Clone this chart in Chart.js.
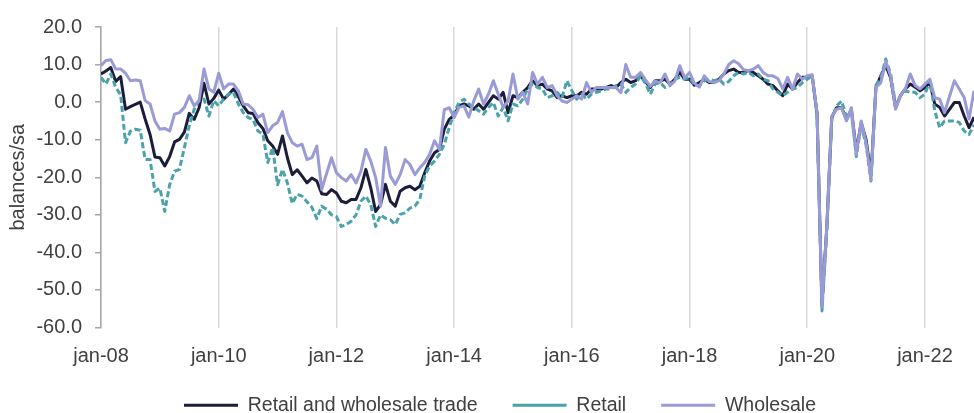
<!DOCTYPE html>
<html><head><meta charset="utf-8">
<script src="https://cdn.jsdelivr.net/npm/chart.js@4/dist/chart.umd.min.js"></script>
<style>html,body{margin:0;padding:0;background:#fff}#wrap{width:974px;height:413px;position:relative}</style>
</head><body><div id="wrap"><canvas id="c" width="974" height="413"></canvas></div>
<script>
// month index 0 = jan-08
const tickLabels = ['jan-08','jan-10','jan-12','jan-14','jan-16','jan-18','jan-20','jan-22'];
const seriesNames = ['Retail and wholesale trade','Retail','Wholesale'];

const retailWholesale = [
7.5,8.3,9.2,5.5,6.8,-1.9,-1.2,-0.6,0.0,-4.5,-8.6,-14.6,
-14.8,-17.0,-14.5,-10.6,-9.9,-8.0,-3.0,-4.6,-1.5,5.0,-0.5,1.0,
3.2,0.8,2.0,3.5,1.5,-1.0,-2.8,-3.0,-5.5,-7.0,-10.3,-11.7,
-13.9,-9.0,-14.8,-19.3,-18.0,-19.7,-21.5,-20.2,-21.0,-24.4,-24.6,-23.3,
-24.2,-26.4,-26.8,-25.9,-25.9,-22.8,-17.9,-22.8,-29.1,-27.3,-21.9,-26.4,
-27.7,-23.7,-22.8,-22.4,-23.3,-22.4,-18.8,-15.7,-13.5,-12.6,-7.2,-4.6,
-3.5,-1.0,-0.5,-1.0,-1.9,-0.5,-1.9,-0.1,1.7,0.8,2.6,-2.8,
1.7,1.2,2.6,3.9,5.7,4.4,4.8,3.5,3.0,1.2,1.7,1.2,
1.7,1.7,2.6,2.1,3.5,3.5,3.5,3.9,4.4,3.9,5.2,6.1,
5.2,5.7,7.0,5.5,3.9,5.7,5.7,6.1,4.8,6.1,8.0,6.1,
6.1,4.5,5.2,6.1,5.2,5.2,6.1,7.5,8.4,8.8,7.9,7.9,
8.4,7.9,7.0,6.1,4.8,4.4,3.0,1.7,4.8,3.5,5.2,6.6,
6.6,7.0,-3.0,-54.0,-33.0,-4.0,-1.5,-1.5,-4.5,-2.0,-13.0,-5.5,
-10.0,-19.5,3.9,7.0,9.7,6.5,-1.5,1.7,3.5,4.8,4.0,3.0,
3.9,5.2,-0.5,-1.4,-3.7,-1.9,-0.1,-0.1,-3.7,-6.8,-4.0
];

const retail = [
6.6,4.8,7.5,3.9,2.0,-10.8,-7.7,-7.2,-7.5,-15.3,-15.3,-23.8,
-22.9,-29.1,-22.0,-18.4,-17.9,-12.1,-6.3,-1.9,0.4,0.8,-3.7,0.4,
-1.0,0.8,2.1,2.6,-0.5,-2.8,-4.1,-4.6,-7.7,-8.5,-16.1,-12.1,
-22.0,-17.9,-21.5,-27.0,-24.5,-25.0,-26.5,-28.0,-31.0,-27.7,-28.5,-30.0,
-30.5,-33.1,-32.6,-31.7,-30.0,-26.4,-25.0,-27.3,-33.1,-30.0,-30.9,-31.3,
-32.6,-29.9,-29.5,-28.2,-27.7,-25.9,-19.7,-17.0,-15.7,-13.9,-11.2,-6.8,
-2.8,-0.1,0.8,-0.5,-1.4,-2.3,-3.2,-1.4,-0.1,-3.7,-1.4,-5.0,
-0.5,-1.0,0.8,3.5,4.8,3.9,3.5,1.2,1.7,2.6,1.2,5.7,
3.0,0.8,2.1,0.8,2.1,2.6,3.0,3.5,3.5,4.4,4.8,2.6,
3.9,4.8,7.0,5.0,2.1,4.8,5.2,3.9,4.4,6.1,6.6,6.1,
6.6,4.5,4.4,5.7,6.1,5.7,6.1,4.8,5.5,7.0,7.9,7.5,
7.9,7.0,7.5,6.1,5.7,3.5,2.6,1.7,2.6,3.5,3.9,5.2,
6.1,7.0,-3.5,-55.6,-34.0,-4.5,-1.0,0.3,-4.0,-2.5,-14.5,-6.0,
-11.5,-21.0,4.5,6.5,11.5,7.5,-0.5,1.7,3.0,2.6,2.6,1.2,
2.1,5.7,-2.3,-6.8,-5.0,-5.0,-5.0,-5.4,-7.7,-8.6,-6.0
];

const wholesale = [
9.7,11.1,11.3,8.8,8.8,7.7,5.7,5.9,5.7,0.4,-0.5,-5.0,
-7.2,-7.0,-7.7,-3.2,-2.8,-1.4,1.7,-1.0,0.4,8.8,3.5,2.6,
7.7,3.5,4.8,4.8,3.0,-0.5,-0.7,-1.9,-4.1,-3.2,-8.1,-6.3,
-5.4,-2.5,-8.1,-10.8,-11.7,-11.2,-15.3,-14.8,-11.7,-23.3,-19.0,-14.8,
-18.8,-20.1,-21.0,-19.3,-21.5,-18.4,-12.6,-15.7,-20.1,-27.7,-12.1,-19.7,
-21.9,-19.3,-15.3,-16.6,-19.3,-17.5,-16.1,-13.9,-10.3,-12.6,-2.0,-1.5,
-4.1,-1.4,-1.0,-4.0,0.3,3.5,-0.5,2.1,5.7,2.1,-1.4,0.3,
7.5,0.8,2.6,-0.5,7.9,4.8,6.6,3.9,4.4,1.7,0.3,-0.1,
0.8,1.7,0.8,5.2,2.6,3.9,3.9,3.9,3.9,3.9,2.5,10.0,
6.6,6.6,7.9,6.0,4.2,5.6,5.2,7.5,4.4,5.6,9.7,6.5,
7.9,5.0,4.0,7.0,5.5,5.2,5.7,7.5,10.0,11.0,10.2,8.6,
8.4,8.8,9.7,7.9,7.0,7.0,6.3,3.5,6.6,3.5,7.5,6.1,
7.0,7.3,-2.8,-54.5,-33.0,-3.7,-1.9,-1.5,-5.0,-1.5,-13.9,-5.0,
-10.8,-20.6,3.9,5.2,10.8,7.0,-1.9,1.7,3.5,7.5,4.4,3.5,
4.8,6.1,1.2,0.8,-2.8,1.5,5.7,3.5,1.2,-4.5,3.0
];

const FONT = "'Liberation Sans', Arial, sans-serif";
const TXT = '#404040';
const toPts = arr => arr.map((v, i) => ({x: i, y: v}));

// nudge the legend block to the reference position
const legendShift = {
  id: 'legendShift',
  afterLayout(chart) {
    const l = chart.legend;
    if (l) { l.left += 13; l.right += 13; l.top -= 11; l.bottom -= 11; }
  }
};

new Chart(document.getElementById('c'), {
  type: 'line',
  data: {
    datasets: [
      {label: seriesNames[0], data: toPts(retailWholesale), borderColor: '#1c1d3b', backgroundColor: '#1c1d3b', borderWidth: 3, order: 2},
      {label: seriesNames[1], data: toPts(retail), borderColor: '#4aa2ab', backgroundColor: '#4aa2ab', borderWidth: 3, borderDash: [6, 3], order: 1},
      {label: seriesNames[2], data: toPts(wholesale), borderColor: '#9a9bd6', backgroundColor: '#9a9bd6', borderWidth: 3, order: 0}
    ]
  },
  plugins: [legendShift],
  options: {
    responsive: false,
    animation: false,
    devicePixelRatio: 1,
    elements: {point: {radius: 0}, line: {tension: 0, borderJoinStyle: 'round', borderCapStyle: 'butt'}},
    layout: {padding: {top: 27, right: 0, bottom: -23, left: 0}},
    scales: {
      x: {
        type: 'linear', min: 0, max: 178,
        afterBuildTicks: s => { s.ticks = tickLabels.map((_, k) => ({value: k * 24})); },
        afterFit: s => { s.height = 44; },
        ticks: {autoSkip: false, maxRotation: 0, padding: 17, color: TXT, font: {family: FONT, size: 20},
                callback: v => tickLabels[v / 24]},
        grid: {color: '#d9d9d9', lineWidth: 1.5, drawTicks: false},
        border: {display: false}
      },
      y: {
        min: -60, max: 20,
        afterFit: s => { s.width = 101; },
        ticks: {stepSize: 10, padding: 13, color: TXT, font: {family: FONT, size: 20}, callback: v => v.toFixed(1)},
        grid: {drawOnChartArea: false, drawTicks: true, tickLength: 6, color: '#a6a6a6', lineWidth: 1.5},
        border: {display: true, color: '#a6a6a6', width: 1.5},
        title: {display: true, text: 'balances/sa', color: TXT, font: {family: FONT, size: 20}, padding: {top: 6, bottom: 0}}
      }
    },
    plugins: {
      tooltip: {enabled: false},
      legend: {
        position: 'bottom',
        labels: {
          usePointStyle: true, pointStyle: 'line', pointStyleWidth: 54, boxHeight: 20,
          padding: 35, color: TXT, font: {family: FONT, size: 19.5},
          sort: (a, b) => a.datasetIndex - b.datasetIndex
        }
      }
    }
  }
});
</script></body></html>
